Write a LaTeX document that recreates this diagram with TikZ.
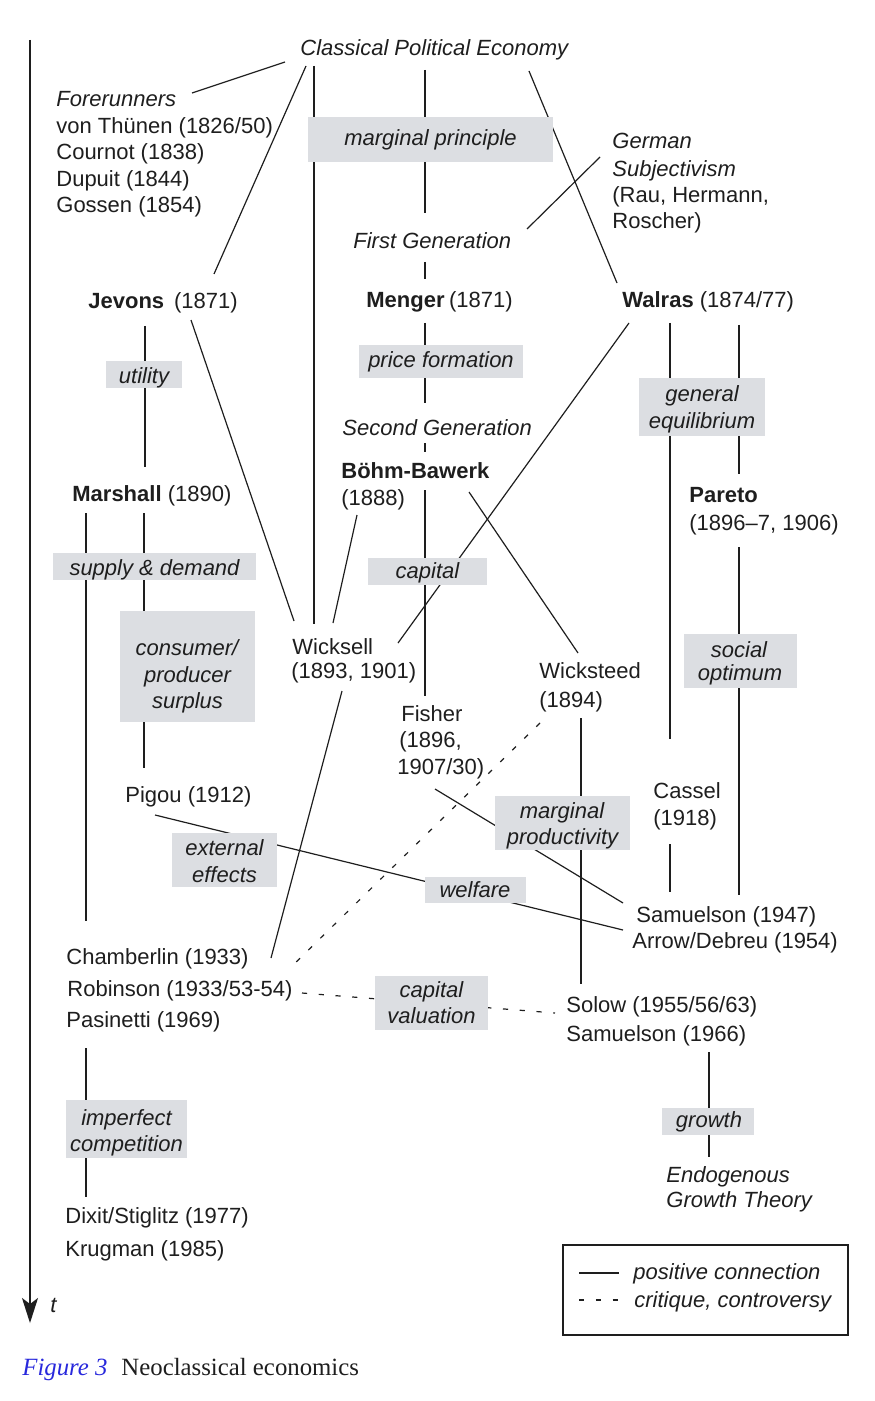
\documentclass[tikz,border=0pt]{standalone}
\usepackage{fontspec}
\setmainfont{Liberation Sans}
\newfontfamily\capfont{Liberation Serif}
\usetikzlibrary{arrows.meta}
\definecolor{ink}{RGB}{30,30,30}
\definecolor{gbox}{RGB}{220,222,226}
\definecolor{capblue}{RGB}{40,40,220}
\begin{document}
\begin{tikzpicture}[x=0.5pt,y=-0.5pt,
  txt/.style={inner sep=0pt, anchor=base west, text=ink, font=\fontsize{11}{13}\selectfont},
  itx/.style={txt, font=\fontsize{11}{13}\selectfont\itshape},
  citx/.style={itx, anchor=base},
  gb/.style={fill=gbox, inner sep=0pt, draw=none},
  conn/.style={draw=ink, line width=0.6pt},
  crit/.style={conn, dash pattern=on 2.6pt off 5.8pt},
]
\useasboundingbox (0,0) rectangle (874,1401);

% ---------- connector end points ----------
\coordinate (ax0) at (30,40);     \coordinate (ax1) at (30,1323);
\coordinate (cpeF) at (285,62);   \coordinate (foreN) at (192,93);
\coordinate (cpeJ) at (306,66);   \coordinate (jevN) at (214,274);
\coordinate (cpeW) at (314,66);   \coordinate (wickN) at (314,624);
\coordinate (cpeG) at (425,70);   \coordinate (fgN) at (425,213);
\coordinate (cpeR) at (529,71);   \coordinate (walN) at (617,283);
\coordinate (gsW) at (600,157);   \coordinate (fgE) at (527,229);
\coordinate (fgS) at (425,262);   \coordinate (menN) at (425,279);
\coordinate (menS) at (425,323);  \coordinate (sgN) at (425,403);
\coordinate (sgS) at (425,443);   \coordinate (bbN) at (425,452);
\coordinate (bbS) at (425,490);   \coordinate (fisN) at (425,696);
\coordinate (bbSW) at (357,515);  \coordinate (wickNE) at (333,623);
\coordinate (bbSE) at (469,492);  \coordinate (wstN) at (578,653);
\coordinate (walSW) at (629,323); \coordinate (wickE) at (398,643);
\coordinate (walS1) at (670,323); \coordinate (casN) at (670,739);
\coordinate (walS2) at (739,325); \coordinate (parN) at (739,474);
\coordinate (parS) at (739,547);  \coordinate (sam47N) at (739,895);
\coordinate (casS) at (670,844);  \coordinate (sam47NW) at (670,892);
\coordinate (jevS) at (145,326);  \coordinate (marN) at (145,467);
\coordinate (jevSE) at (191,320); \coordinate (wickNW) at (294,621);
\coordinate (marS1) at (86,513);  \coordinate (chaN) at (86,921);
\coordinate (marS2) at (144,513); \coordinate (pigN) at (144,768);
\coordinate (wickS) at (342,691); \coordinate (chaE) at (271,958);
\coordinate (wstS) at (581,718);  \coordinate (solN) at (581,984);
\coordinate (fisS) at (435,789);  \coordinate (sam47W) at (623,903);
\coordinate (pigS) at (155,815);  \coordinate (arrW) at (623,930);
\coordinate (pasS) at (86,1048);  \coordinate (dixN) at (86,1197);
\coordinate (samS) at (709,1052); \coordinate (endN) at (709,1157);
\coordinate (wstSW) at (540,723); \coordinate (robNE) at (290,968);
\coordinate (robE) at (302,993);  \coordinate (solW) at (555,1013);
\coordinate (lg1a) at (579,1273); \coordinate (lg1b) at (619,1273);
\coordinate (lg2a) at (579,1300); \coordinate (lg2b) at (619,1300);

% ---------- connectors ----------
\draw[conn, line width=0.75pt, -{Stealth[length=12.5pt,width=8pt,inset=3pt]}] (ax0) -- (ax1);
\draw[conn] (cpeF) -- (foreN);
\draw[conn] (cpeJ) -- (jevN);
\draw[conn] (cpeW) -- (wickN);
\draw[conn] (cpeG) -- (fgN);
\draw[conn] (cpeR) -- (walN);
\draw[conn] (gsW) -- (fgE);
\draw[conn] (fgS) -- (menN);
\draw[conn] (menS) -- (sgN);
\draw[conn] (sgS) -- (bbN);
\draw[conn] (bbS) -- (fisN);
\draw[conn] (bbSW) -- (wickNE);
\draw[conn] (bbSE) -- (wstN);
\draw[conn] (walSW) -- (wickE);
\draw[conn] (walS1) -- (casN);
\draw[conn] (walS2) -- (parN);
\draw[conn] (parS) -- (sam47N);
\draw[conn] (casS) -- (sam47NW);
\draw[conn] (jevS) -- (marN);
\draw[conn] (jevSE) -- (wickNW);
\draw[conn] (marS1) -- (chaN);
\draw[conn] (marS2) -- (pigN);
\draw[conn] (wickS) -- (chaE);
\draw[conn] (wstS) -- (solN);
\draw[conn] (fisS) -- (sam47W);
\draw[conn] (pigS) -- (arrW);
\draw[conn] (pasS) -- (dixN);
\draw[conn] (samS) -- (endN);
\draw[crit] (wstSW) -- (robNE);
\draw[crit] (robE) -- (solW);

% ---------- grey boxes ----------
\node[gb, minimum width=122.5pt, minimum height=22.5pt] (bmp)  at (430.5,139.5) {};
\node[gb, minimum width=38pt,    minimum height=13.5pt] (but)  at (144,374.5) {};
\node[gb, minimum width=82pt,    minimum height=16.5pt] (bpf)  at (441,361.5) {};
\node[gb, minimum width=63pt,    minimum height=29pt]   (bge)  at (702,407) {};
\node[gb, minimum width=101.5pt, minimum height=13.5pt] (bsd)  at (154.5,566.5) {};
\node[gb, minimum width=67.5pt,  minimum height=55.5pt] (bcps) at (187.5,666.5) {};
\node[gb, minimum width=59.5pt,  minimum height=13.5pt] (bcap) at (427.5,571.5) {};
\node[gb, minimum width=56.5pt,  minimum height=27pt]   (bso)  at (740.5,661) {};
\node[gb, minimum width=67.5pt,  minimum height=27pt]   (bmpr) at (562.5,823) {};
\node[gb, minimum width=52.5pt,  minimum height=27pt]   (bee)  at (224.5,860) {};
\node[gb, minimum width=50.5pt,  minimum height=13pt]   (bwel) at (475.5,890) {};
\node[gb, minimum width=56.5pt,  minimum height=27pt]   (bcv)  at (431.5,1003) {};
\node[gb, minimum width=46pt,    minimum height=13.5pt] (bgr)  at (708,1121.5) {};
\node[gb, minimum width=60.5pt,  minimum height=29pt]   (bic)  at (126.5,1129) {};

% ---------- box labels ----------
\node[citx] (tmp)   at (430.5,146) {marginal principle};
\node[citx] (tut)   at (144,383) {utility};
\node[citx] (tpf)   at (441,367) {price formation};
\node[citx] (tge1)  at (702,401) {general};
\node[citx] (tge2)  at (702,428) {equilibrium};
\node[citx] (tsd)   at (154.5,575) {supply \& demand};
\node[citx] (tcps1) at (187,655) {consumer/};
\node[citx] (tcps2) at (187.5,682) {producer};
\node[citx] (tcps3) at (187.5,708) {surplus};
\node[citx] (tcap)  at (427.5,578) {capital};
\node[citx] (tso1)  at (739,657) {social};
\node[citx] (tso2)  at (740,680) {optimum};
\node[citx] (tmpr1) at (562,818) {marginal};
\node[citx] (tmpr2) at (562.5,844) {productivity};
\node[citx] (tee1)  at (224.5,855) {external};
\node[citx] (tee2)  at (224.5,882) {effects};
\node[citx] (twel)  at (475,897) {welfare};
\node[citx] (tcv1)  at (431.5,997) {capital};
\node[citx] (tcv2)  at (431.5,1023) {valuation};
\node[citx] (tgr)   at (709,1127) {growth};
\node[citx] (tic1)  at (126.5,1125) {imperfect};
\node[citx] (tic2)  at (126.5,1151) {competition};

% ---------- texts ----------
\node[itx] (cpe) at (300,56) {Classical Political Economy};
\node[itx] (fore) at (56,107) {Forerunners};
\node[txt] (thuenen) at (56,134) {von Thünen (1826/50)};
\node[txt] (cournot) at (56,160) {Cournot (1838)};
\node[txt] (dupuit) at (56,187) {Dupuit (1844)};
\node[txt] (gossen) at (56,213) {Gossen (1854)};
\node[itx] (german) at (612,149) {German};
\node[itx] (subj) at (612,177) {Subjectivism};
\node[txt] (rau) at (612,203) {(Rau, Hermann,};
\node[txt] (roscher) at (612,229) {Roscher)};
\node[itx] (firstgen) at (353,249) {First Generation};
\node[txt] (jevons) at (88,309) {\textbf{Jevons}\hspace{0.45em}(1871)};
\node[txt] (menger) at (366,308) {\textbf{Menger}\hspace{0.2em}(1871)};
\node[txt] (walras) at (622,308) {\textbf{Walras} (1874/77)};
\node[itx] (secondgen) at (342,435) {Second Generation};
\node[txt] (boehm) at (341,478) {\textbf{Böhm-Bawerk}};
\node[txt] (boehmy) at (341,505) {(1888)};
\node[txt] (marshall) at (72,501) {\textbf{Marshall} (1890)};
\node[txt] (pareto) at (689,502) {\textbf{Pareto}};
\node[txt] (paretoy) at (689,530) {(1896–7, 1906)};
\node[txt] (wicksell) at (292,654) {Wicksell};
\node[txt] (wickselly) at (291,678) {(1893, 1901)};
\node[txt] (wicksteed) at (539,678) {Wicksteed};
\node[txt] (wicksteedy) at (539,707) {(1894)};
\node[txt] (fisher) at (401,721) {Fisher};
\node[txt] (fishery1) at (399,747) {(1896,};
\node[txt] (fishery2) at (397,774) {1907/30)};
\node[txt] (cassel) at (653,798) {Cassel};
\node[txt] (cassely) at (653,825) {(1918)};
\node[txt] (pigou) at (125,802) {Pigou (1912)};
\node[txt] (samu47) at (636,922) {Samuelson (1947)};
\node[txt] (arrow) at (632,948) {Arrow/Debreu (1954)};
\node[txt] (chamb) at (66,964) {Chamberlin (1933)};
\node[txt] (robin) at (67,996) {Robinson (1933/53-54)};
\node[txt] (pasin) at (66,1027) {Pasinetti (1969)};
\node[txt] (solow) at (566,1012) {Solow (1955/56/63)};
\node[txt] (samu66) at (566,1041) {Samuelson (1966)};
\node[itx] (endo) at (666,1182) {Endogenous};
\node[itx] (egt) at (666,1207) {Growth Theory};
\node[txt] (dixit) at (65,1223) {Dixit/Stiglitz (1977)};
\node[txt] (krug) at (65,1256) {Krugman (1985)};
\node[itx] (tlab) at (50,1312) {t};

% ---------- legend ----------
\node[draw=ink, line width=0.7pt, inner sep=0pt, minimum width=142.5pt, minimum height=45pt] (legend) at (705.5,1290) {};
\draw[conn] (lg1a) -- (lg1b);
\draw[crit] (lg2a) -- (lg2b);
\node[itx] (lpos) at (633,1279) {positive connection};
\node[itx] (lcrit) at (634,1307) {critique, controversy};

% ---------- caption ----------
\node[txt, font=\fontsize{12.4}{14}\capfont] (cap) at (22,1375) {\textcolor{capblue}{\itshape Figure 3}\hspace{0.56em}Neoclassical economics};
\end{tikzpicture}
\end{document}
